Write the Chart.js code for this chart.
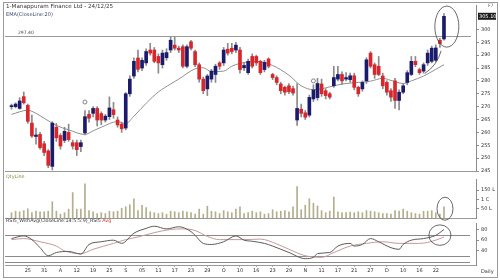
<!DOCTYPE html>
<html><head><meta charset="utf-8">
<script src="https://cdn.jsdelivr.net/npm/chart.js@4.4.1/dist/chart.umd.min.js"></script>
<style>
html,body{margin:0;padding:0;background:#fff;width:500px;height:280px;overflow:hidden}
#wrap{position:relative;width:500px;height:280px}
#wrap canvas{position:absolute;left:0}
#frame{position:absolute;left:3px;top:2px;width:495px;height:276px;border:1px solid #9a9a9a;box-sizing:border-box}
.t{position:absolute;white-space:nowrap;font-family:"DejaVu Sans",Verdana,sans-serif;line-height:1}
</style></head><body>
<div id="wrap">
<div id="frame"></div>
<canvas id="cP" width="500" height="176" style="top:0"></canvas>
<canvas id="cV" width="500" height="50" style="top:174px"></canvas>
<canvas id="cR" width="500" height="62" style="top:218px"></canvas>
<div class="t" style="left:6px;top:4px;font-size:5.6px;color:#333">1-Manappuram Finance Ltd - 24/12/25</div>
<div class="t" style="left:6px;top:12px;font-size:5px;color:#3a4a6a">EMA(CloseLine:20)</div>
<div class="t" style="left:18px;top:31px;font-size:4.5px;color:#444">297.40</div>
<div class="t" style="left:488px;top:4px;font-size:4.5px;color:#666">F7</div>
<div class="t" style="left:6px;top:175px;font-size:4.8px;color:#8c8c3c">QtyLine</div>
<div class="t" style="left:6px;top:219px;font-size:4.8px;color:#333">RSI5_WithAvg(CloseLine:14:5:5:9)_RSI5 <span style="color:#d03030">Avg</span></div>
<div class="t" style="left:481px;top:269px;font-size:5px;color:#333">Daily</div>
</div>
<script>
const FONT = '"DejaVu Sans", Verdana, sans-serif';
const UP = '#1b1b6e', DOWN = '#d8262a';

const tickLabels = ["25","31","A","12","19","25","S","05","11","17","23","29","O","10","16","23","29","N","11","17","21","27","D","10","16","22"];
const tickBars = [4,8,12,16,20,24,28,32,36,40,44,48,52,56,60,64,68,72,76,80,84,88,92,96,100,104];

const open = [270.0,270.0,269.3,273.9,270.5,263.6,258.4,259.2,255.6,252.8,
246.8,262.0,258.8,256.9,260.0,256.0,256.0,254.5,259.8,267.0,
267.4,269.3,267.3,264.8,266.1,268.8,264.8,263.2,261.7,275.0,
281.9,288.9,285.0,287.0,292.0,292.0,289.5,286.3,289.0,292.0,
293.9,292.7,293.3,285.7,295.2,291.4,286.3,280.7,276.9,280.7,
282.5,287.0,287.0,292.3,292.7,292.0,292.0,285.1,283.2,289.5,
289.5,287.6,284.4,288.5,282.5,281.3,278.8,277.5,278.1,277.0,
264.8,269.0,267.6,266.7,273.0,273.5,278.8,276.2,275.0,278.1,
280.7,282.5,280.7,280.5,282.0,277.5,276.9,280.0,290.8,286.3,
285.7,281.9,279.4,276.2,280.0,272.4,275.6,279.4,282.5,287.6,
284.4,283.8,287.0,287.6,288.0,295.8,296.3];
const close = [270.4,271.0,272.2,271.5,264.3,258.6,259.0,254.1,252.2,247.2,
263.6,257.9,254.7,260.4,257.2,254.7,253.3,256.0,266.1,265.5,
269.3,264.8,264.8,266.3,269.5,266.9,262.9,261.4,275.0,280.7,
287.6,284.5,288.0,291.4,290.8,287.6,287.0,290.8,291.0,295.8,
292.7,292.0,285.7,293.3,292.7,286.3,280.7,276.2,281.9,283.8,
285.7,285.7,292.0,290.8,291.4,293.9,284.4,286.0,287.6,285.7,
287.0,283.2,287.2,285.7,281.3,279.4,276.2,275.6,275.8,275.3,
269.3,267.4,265.9,273.6,276.5,279.0,275.0,274.3,273.7,281.3,
282.5,280.0,281.3,282.0,277.5,275.0,279.4,288.2,285.7,282.5,
282.5,278.1,275.6,273.7,272.4,275.6,278.1,283.2,287.6,286.3,
283.2,286.3,290.8,292.7,292.8,294.5,305.1];
const high = [271.0,271.5,273.5,275.7,271.0,266.7,261.7,260.0,256.5,253.3,
264.2,263.5,259.5,262.0,263.2,257.0,257.0,257.0,268.5,268.5,
270.0,270.0,268.0,267.0,273.8,271.7,266.0,264.0,275.5,282.0,
289.0,292.0,289.0,292.5,294.6,293.0,290.5,292.0,292.5,297.2,
297.1,293.5,294.0,294.0,295.8,292.0,287.0,281.5,282.5,284.5,
286.5,287.5,293.0,294.6,294.6,295.0,293.0,287.0,288.5,290.5,
290.0,288.0,288.0,289.0,283.0,282.0,279.5,278.0,279.0,278.0,
279.0,271.0,268.5,274.5,278.5,281.0,280.7,277.0,275.6,285.7,
285.7,283.5,283.2,283.0,283.0,278.0,280.0,289.0,291.4,287.0,
289.5,283.0,280.0,277.0,281.0,276.5,279.0,284.0,289.5,289.5,
285.0,287.0,292.0,293.5,294.0,296.5,306.2];
const low = [269.0,269.5,269.0,271.0,263.5,258.0,255.4,253.5,251.0,246.3,
245.4,256.5,253.5,256.0,256.5,253.5,251.0,252.5,259.0,264.0,
266.0,262.5,263.0,264.0,265.0,265.5,262.0,260.0,261.0,274.0,
281.0,283.5,284.0,286.0,290.0,287.0,283.0,285.0,288.0,291.0,
292.0,291.0,285.0,285.0,292.0,285.5,279.5,275.0,274.3,279.5,
279.4,284.5,286.0,290.0,290.5,291.0,283.0,284.0,282.5,285.0,
286.0,282.5,283.5,285.0,280.5,278.5,275.0,274.5,275.0,274.5,
262.7,266.0,265.0,266.0,272.0,272.5,274.0,273.0,273.0,277.5,
280.0,278.5,280.0,279.5,276.5,274.0,276.0,279.0,285.0,281.0,
282.0,277.0,274.5,272.0,269.3,268.7,275.0,278.5,282.0,285.5,
282.5,283.0,286.0,287.0,287.5,293.0,295.8];
const volume = [28.6,36.7,33.5,39.8,49.4,28.6,36.7,33.5,33.5,36.7,
87.6,36.7,20.6,28.6,47.9,136.9,47.9,47.9,184.4,39.8,
33.5,23.8,28.6,23.8,36.7,33.5,36.7,52.7,60.6,71.7,
103.5,39.8,68.6,55.7,33.5,28.6,23.8,28.6,20.6,36.7,
33.5,28.6,36.7,33.5,28.6,20.6,47.9,20.6,63.8,36.7,
33.5,23.8,39.8,33.5,28.6,47.9,60.6,23.8,28.6,36.7,
28.6,33.5,20.6,23.8,44.6,33.5,36.7,39.8,33.5,60.6,
168.6,44.6,68.6,103.5,79.7,65.2,39.8,28.6,36.7,113.0,
33.5,28.6,28.6,31.9,28.6,33.5,28.6,39.8,36.7,33.5,
28.6,23.8,23.8,20.6,39.8,36.7,47.9,36.7,28.6,23.8,
20.6,36.7,36.7,39.8,28.6,20.6,60.6];

const emaBar = [0,4,6,8,11,14,18,20,22,26,28,30,33,36,39,41,45,47,49,52,54,56,60,64,68,71,74,77,81,85,88,91,93,96,98,101,104,106];
const emaVal = [267,268.6,267.4,265.5,262.7,261,259.2,260.6,262,264.2,263.4,266.3,271.3,275.7,278.8,280.7,284.7,285.1,283.6,283.8,285.7,286.8,287.6,286,282.2,278.1,276.6,277.3,278.8,279.4,279.9,281,280.2,279,280,281.9,284.5,286.3];

const rsiBar = [0,3,5,7,9,11,14,17,19,22,25,27,30,33,35,38,41,44,45,47,49,52,55,57,59,62,64,68,72,74,75,78,80,83,84,86,88,90,93,95,96,98,101,104,106];
const rsiVal = [63,68,61,46,31,37,39,34,52,57,60,54,73,82,86,81,85,76,69,54,52,57,68,60,58,54,49,37,25.5,28,35,37,49,54,49,52,63,57,46,43,52,60,63,69,80];
const avgBar = [0,3,7,11,13,17,20,25,28,31,35,39,42,45,48,51,57,61,65,68,72,76,79,83,87,91,95,100,104,106];
const avgVal = [61,63,57,49,40,35,43,54,61,66,74,80,81,78,67,61,61,62,53,43,31,28,37,49,54,57,54,54,60,66];

const markerBar = [18, 74];
const markerVal = [271.8, 280.0];

const priceTicks = [245,250,255,260,265,270,275,280,285,290,295,300];
const volTicks = [50,100,150], volLabels = ["50 L","1 C","150 L"];
const rsiTicks = [40,60,80];
const rsiLevels = [70,30,20];
const refLevel = 297.40;

const bars = open.map((_, i) => i);
const X_MIN = -1.593, X_MAX = 113.848;

const decorPlugin = {
  id: 'decor',
  beforeDatasetsDraw(chart, args, o) {
    const {ctx, chartArea: a} = chart; const ys = chart.scales.y;
    ctx.save();
    ctx.lineWidth = 1;
    (o.levels || []).forEach(v => {
      const y = Math.round(ys.getPixelForValue(v)) + 0.5;
      ctx.strokeStyle = o.levelColor || '#999';
      ctx.beginPath(); ctx.moveTo(a.left, y); ctx.lineTo(a.right - (o.levelGap || 0), y); ctx.stroke();
    });
    if (o.bottomLine) {
      const y = Math.round(a.bottom) + 0.5;
      ctx.strokeStyle = '#999';
      ctx.beginPath(); ctx.moveTo(a.left, y); ctx.lineTo(a.right, y); ctx.stroke();
    }
    ctx.restore();
  },
  afterDraw(chart, args, o) {
    const {ctx} = chart; const xs = chart.scales.x, ys = chart.scales.y;
    ctx.save();
    ctx.strokeStyle = '#444'; ctx.lineWidth = 0.8;
    (o.ellipses || []).forEach(e => {
      const cx = xs.getPixelForValue(e.x), cy = ys.getPixelForValue(e.y);
      const rx = Math.abs(xs.getPixelForValue(e.x + e.rx) - cx);
      const ry = Math.abs(ys.getPixelForValue(e.y + e.ry) - cy);
      ctx.beginPath(); ctx.ellipse(cx, cy, rx, ry, 0, 0, Math.PI * 2); ctx.stroke();
    });
    (o.curves || []).forEach(c => {
      ctx.beginPath();
      ctx.moveTo(xs.getPixelForValue(c.x0), ys.getPixelForValue(c.y0));
      ctx.quadraticCurveTo(xs.getPixelForValue(c.cx), ys.getPixelForValue(c.cy), xs.getPixelForValue(c.x1), ys.getPixelForValue(c.y1));
      ctx.stroke();
    });
    if (o.lastBox) {
      const v = close[close.length - 1];
      const y = ys.getPixelForValue(v);
      ctx.fillStyle = '#1c1c1c';
      ctx.fillRect(ys.left + 2, y - 3.5, 18, 7);
      ctx.fillStyle = '#fff';
      ctx.font = '5px ' + FONT; ctx.textAlign = 'left'; ctx.textBaseline = 'middle';
      ctx.fillText(v.toFixed(2), ys.left + 3, y + 0.3);
    }
    ctx.restore();
  }
};

function xScale(show) {
  const s = {type:'linear', min:X_MIN, max:X_MAX, offset:false, display:show,
    grid:{display:false, offset:false}, ticks:{display:false}};
  if (show) {
    s.grid = {display:true, offset:false, drawOnChartArea:false, drawTicks:true, tickLength:2, color:'#aaa'};
    s.border = {display:true, color:'#999'};
    s.ticks = {display:true, autoSkip:false, maxRotation:0, minRotation:0, padding:1, color:'#333',
      font:{size:5, family:FONT},
      callback:(v) => { const k = tickBars.indexOf(v); return k >= 0 ? tickLabels[k] : ''; }};
    s.afterBuildTicks = (sc) => { sc.ticks = tickBars.map(v => ({value:v})); };
    s.afterFit = (sc) => { sc.height = 15; };
  }
  return s;
}
function yScale(min, max, ticks, labels) {
  return {position:'right', min, max,
    border:{display:true, color:'#8c8c8c'},
    grid:{drawOnChartArea:false, drawTicks:true, tickLength:3, color:'#8c8c8c'},
    ticks:{padding:2, color:'#333', autoSkip:false, font:{size:5, family:FONT},
      callback:(v) => { const k = ticks.indexOf(v); return k >= 0 ? labels[k] : ''; }},
    afterBuildTicks:(sc) => { sc.ticks = ticks.map(v => ({value:v})); },
    afterFit:(sc) => { sc.width = 24; }
  };
}
const common = {responsive:false, maintainAspectRatio:false, animation:false, events:[]};

new Chart(document.getElementById('cP'), {
  type:'bar',
  data:{datasets:[
    {type:'line', data: emaBar.map((b,k) => ({x:b, y:emaVal[k]})), borderColor:'#8f8f8f', borderWidth:1,
      pointRadius:0, cubicInterpolationMode:'monotone', order:3},
    {type:'bar', data: bars.map(i => ({x:i, y:[low[i], high[i]]})), backgroundColor:'#8a8a8a',
      barThickness:1, grouped:false, order:2},
    {type:'bar', data: bars.map(i => ({x:i, y:[open[i], close[i]]})),
      backgroundColor: bars.map(i => close[i] >= open[i] ? UP : DOWN), barThickness:3, grouped:false, order:1},
    {type:'line', data: markerBar.map((b,k) => ({x:b, y:markerVal[k]})), showLine:false, pointRadius:2,
      pointBorderColor:'#666', pointBackgroundColor:'#fff', pointBorderWidth:0.8, order:0}
  ]},
  options:{...common, layout:{padding:{left:5, right:0, top:4, bottom:2}},
    scales:{x:xScale(false), y:yScale(245, 309.49, priceTicks, priceTicks.map(String))},
    plugins:{legend:{display:false}, tooltip:{enabled:false},
      decor:{levels:[refLevel], levelColor:'#9a9a9a', levelGap:5, bottomLine:true, lastBox:true,
        ellipses:[{x:106.7, y:301.1, rx:2.94, ry:7.97}],
        curves:[{x0:105.3, y0:291.7, cx:104.3, cy:286.0, x1:101.3, y1:282.9}]}}},
  plugins:[decorPlugin]
});

new Chart(document.getElementById('cV'), {
  type:'bar',
  data:{datasets:[
    {data: bars.map(i => ({x:i, y:volume[i]})), backgroundColor:'#b3ae8e', barThickness:1, grouped:false}
  ]},
  options:{...common, layout:{padding:{left:5, right:0, top:0, bottom:6}},
    scales:{x:xScale(false), y:yScale(0, 210, volTicks, volLabels)},
    plugins:{legend:{display:false}, tooltip:{enabled:false},
      decor:{bottomLine:true, ellipses:[{x:106.25, y:50, rx:1.96, ry:62}]}}},
  plugins:[decorPlugin]
});

new Chart(document.getElementById('cR'), {
  type:'line',
  data:{datasets:[
    {data: rsiBar.map((b,k) => ({x:b, y:rsiVal[k]})), borderColor:'#5a5a5a', borderWidth:1, pointRadius:0,
      cubicInterpolationMode:'monotone'},
    {data: avgBar.map((b,k) => ({x:b, y:avgVal[k]})), borderColor:'#c29a9a', borderWidth:1, pointRadius:0,
      cubicInterpolationMode:'monotone'}
  ]},
  options:{...common, layout:{padding:{left:5, right:0, top:2, bottom:0}},
    scales:{x:xScale(true), y:yScale(13.7, 92, rsiTicks, rsiTicks.map(String))},
    plugins:{legend:{display:false}, tooltip:{enabled:false},
      decor:{levels:rsiLevels, levelColor:'#8a8a8a', levelGap:6,
        ellipses:[{x:105, y:69.4, rx:2.7, ry:19.1}]}}},
  plugins:[decorPlugin]
});
</script>
</body></html>
